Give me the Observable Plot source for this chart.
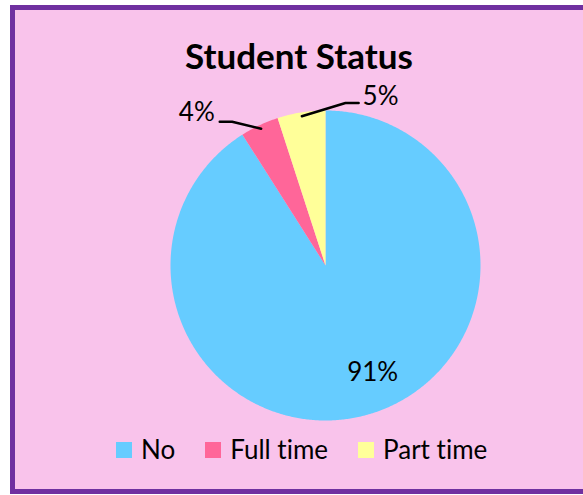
<!DOCTYPE html>
<html>
<head>
<meta charset="utf-8">
<script src="https://cdn.jsdelivr.net/npm/d3@7"></script>
<script src="https://cdn.jsdelivr.net/npm/@observablehq/plot@0.6"></script>
<style>
  html, body { margin: 0; padding: 0; background: #ffffff; }
  body { width: 583px; height: 495px; position: relative; overflow: hidden; font-family: Lato, "Open Sans", sans-serif; font-variant-ligatures: none; }
  #frame { position: absolute; left: 10px; top: 5px; width: 580px; height: 489px; box-sizing: border-box;
           border: 5px solid #7030A0; background: #F9C3EB; }
  #title { position: absolute; left: 0; width: 598px; top: 38px; text-align: center; font-weight: bold;
           font-size: 35px; line-height: 34px; color: #000; }
  #chart { position: absolute; left: 0; top: 0; }
  #legend { position: absolute; left: 116px; top: 437px; display: flex; align-items: center; font-size: 26px; line-height: 25px; color: #000; }
  .item { display: flex; align-items: center; margin-right: 30px; }
  .sw { width: 16px; height: 16px; margin-right: 9px; }
  svg text { font-variant-ligatures: none; }
</style>
</head>
<body>
<div id="frame"></div>
<div id="chart"></div>
<div id="title">Student Status</div>
<div id="legend"></div>
<script>
const categories = ["No", "Full time", "Part time"];
const values = [91, 4, 5];
const labels = ["91%", "4%", "5%"];
const colors = ["#66CCFF", "#FF6699", "#FFFF99"];

const arcs = d3.pie().sort(null)(values);

// slice outlines in unit-circle coordinates (angle 0 at 12 o'clock, clockwise)
const pt = (a, r) => ({x: Math.sin(a) * r, y: Math.cos(a) * r});
const slicePts = [];
arcs.forEach((arc, i) => {
  const cat = categories[i];
  slicePts.push({cat, x: 0, y: 0});
  const n = Math.max(2, Math.ceil((arc.endAngle - arc.startAngle) / (Math.PI / 360)));
  for (let k = 0; k <= n; k++) {
    const a = arc.startAngle + (arc.endAngle - arc.startAngle) * k / n;
    slicePts.push({cat, ...pt(a, 1)});
  }
  slicePts.push({cat, x: 0, y: 0});
});

// label layout (style): inside label for big slice, leader-line labels for small ones
const layout = [
  {inside: true, r: 0.72},
  {inside: false, elbowA: -33 * Math.PI / 180, elbowR: 1.106, run: -0.08, anchor: "end"},
  {inside: false, elbowA: 7 * Math.PI / 180, elbowR: 1.056, run: 0.085, anchor: "start"}
];
const textPts = [];
const leaderPts = [];
arcs.forEach((arc, i) => {
  const mid = (arc.startAngle + arc.endAngle) / 2;
  const L = layout[i];
  if (L.inside) {
    const p = pt(mid, L.r);
    textPts.push({...p, text: labels[i], anchor: "middle"});
  } else {
    const s = pt(mid, 0.975);
    const e = pt(L.elbowA, L.elbowR);
    const end = {x: e.x + L.run, y: e.y};
    leaderPts.push({cat: categories[i], ...s}, {cat: categories[i], ...e}, {cat: categories[i], ...end});
    textPts.push({x: end.x, y: end.y, text: labels[i], anchor: L.anchor});
  }
});

const plot = Plot.plot({
  width: 583,
  height: 495,
  margin: 0,
  x: {domain: [-1, 1], range: [170, 480], axis: null},
  y: {domain: [-1, 1], range: [420, 110], axis: null},
  color: {domain: categories, range: colors},
  style: {background: "transparent", overflow: "visible"},
  marks: [
    Plot.line(slicePts, {x: "x", y: "y", z: "cat", fill: "cat", stroke: "none", curve: "linear"}),
    Plot.line(leaderPts, {x: "x", y: "y", z: "cat", stroke: "#000", strokeWidth: 2.5, curve: "linear"}),
    Plot.text(textPts.filter(d => d.anchor === "middle"), {x: "x", y: "y", text: "text", textAnchor: "middle", dx: 16, fontSize: 26, fontFamily: "Lato", fill: "#000"}),
    Plot.text(textPts.filter(d => d.anchor === "end"), {x: "x", y: "y", text: "text", textAnchor: "end", dx: -5, dy: -9, fontSize: 26, fontFamily: "Lato", fill: "#000"}),
    Plot.text(textPts.filter(d => d.anchor === "start"), {x: "x", y: "y", text: "text", textAnchor: "start", dx: 4, dy: -6, fontSize: 26, fontFamily: "Lato", fill: "#000"})
  ]
});
document.getElementById("chart").appendChild(plot);

const legend = document.getElementById("legend");
categories.forEach((c, i) => {
  const item = document.createElement("div");
  item.className = "item";
  const sw = document.createElement("div");
  sw.className = "sw";
  sw.style.background = colors[i];
  const t = document.createElement("span");
  t.textContent = c;
  item.appendChild(sw);
  item.appendChild(t);
  legend.appendChild(item);
});
</script>
</body>
</html>
